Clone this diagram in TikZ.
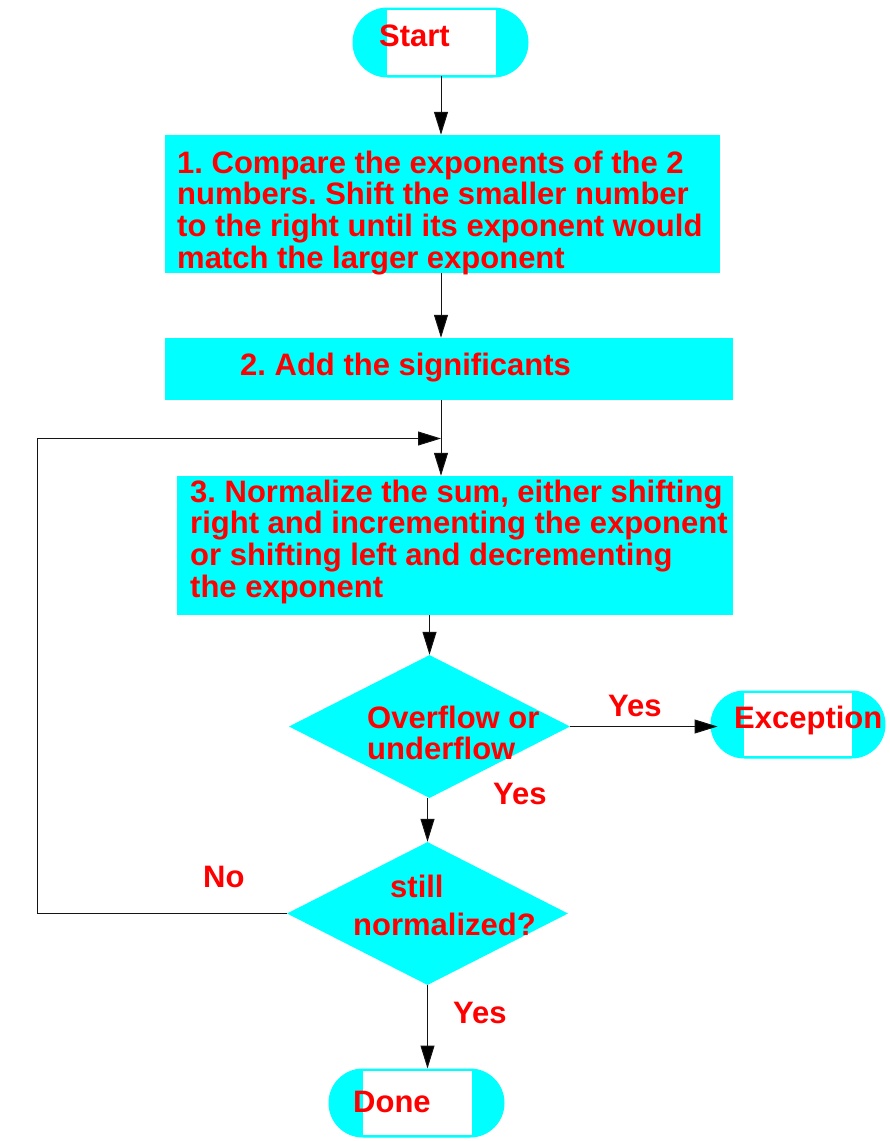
\documentclass[tikz,border=0pt]{standalone}
\usepackage{fontspec}
\setmainfont{Liberation Sans}
\usetikzlibrary{arrows.meta,shapes.geometric,shapes.misc}
\definecolor{aqua}{RGB}{0,255,255}
\definecolor{txtred}{RGB}{255,0,0}
\definecolor{linegray}{RGB}{20,20,20}
\newcommand\mylines[1]{\begin{tabular}[t]{@{}l@{}}#1\end{tabular}}
\frenchspacing
\begin{document}
\begin{tikzpicture}[x=1pt,y=-1pt,
  conn/.style={line width=1pt, draw=linegray, -{Triangle[length=23pt,width=14pt,fill=black]}},
  procbox/.style={rectangle, fill=aqua, inner sep=0pt},
  decide/.style={diamond, fill=aqua, inner sep=0pt, minimum width=281pt, minimum height=143pt},
  term/.style={rounded rectangle, fill=aqua, draw=aqua, line width=1pt, inner sep=0pt},
  termcore/.style={rectangle, fill=white, draw=aqua, line width=1pt, inner sep=0pt},
  lbl/.style={text=txtred, font=\bfseries\fontsize{31}{31}\selectfont\frenchspacing, inner sep=0pt, anchor=base west},
]
\useasboundingbox (0,0) rectangle (890,1141);
\fill[white] (0,0) rectangle (890,1141);

% terminals
\node[term, minimum width=175pt, minimum height=69pt] (start) at (440.5,42.5) {};
\node[termcore, minimum width=110pt, minimum height=66pt] (startcore) at (441,42.5) {};
\node[lbl] (starttxt) at (379,46.5) {Start};

\node[term, minimum width=174pt, minimum height=67pt] (exc) at (798,724.5) {};
\node[termcore, minimum width=109pt, minimum height=64pt] (exccore) at (797.5,724.5) {};
\node[lbl] (exctxt) at (734,728) {Exception};

\node[term, minimum width=175pt, minimum height=68pt] (done) at (416.5,1103) {};
\node[termcore, minimum width=110pt, minimum height=65pt] (donecore) at (417,1103) {};
\node[lbl] (donetxt) at (353,1112) {Done};

% process boxes
\node[procbox, minimum width=555pt, minimum height=138pt] (box1) at (442.5,204) {};
\node[lbl] (box1txt) at (177,173) {\mylines{1. Compare the exponents of the 2\\numbers. Shift the smaller number\\to the right until its exponent would\\match the larger exponent}};

\node[procbox, minimum width=568pt, minimum height=62pt] (box2) at (449,369) {};
\node[lbl] (box2txt) at (240,375) {2. Add the significants};

\node[procbox, minimum width=556pt, minimum height=139pt] (box3) at (455,545.5) {};
\node[lbl] (box3txt) at (190,502) {\mylines{3. Normalize the sum, either shifting\\right and incrementing the exponent\\or shifting left and decrementing\\the exponent}};

% decisions
\node[decide] (d1) at (429.5,726.5) {};
\node[lbl] (d1txt) at (367,728) {\mylines{Overflow or\\underflow}};

\node[decide] (d2) at (427.5,913.5) {};
\node[lbl] (d2txta) at (390,897) {still};
\node[lbl] (d2txtb) at (353,935) {normalized?};

% labels
\node[lbl] (yesexc) at (608,716) {Yes};
\node[lbl] (yesmid) at (493,804) {Yes};
\node[lbl] (nolbl) at (203,887) {No};
\node[lbl] (yesdone) at (453,1023) {Yes};

% connectors
\coordinate (merge) at (441,438.5);
\coordinate (loopcorner) at (37,913.5);
\draw[conn] (startcore.south -| merge) -- (box1.north -| merge);
\draw[conn] (box1.south -| merge) -- (box2.north -| merge);
\draw[conn] (box2.south -| merge) -- (box3.north -| merge);
\draw[conn] (box3.south -| d1.north) -- (d1.north);
\draw[conn] (d1.east) -- ([xshift=7pt]d1.east -| exc.west);
\draw[conn] (d2.north |- d1.south) -- (d2.north);
\draw[conn] (d2.south) -- (d2.south |- done.north);
\draw[conn] (d2.west) -- (loopcorner) |- (merge);
\end{tikzpicture}
\end{document}
